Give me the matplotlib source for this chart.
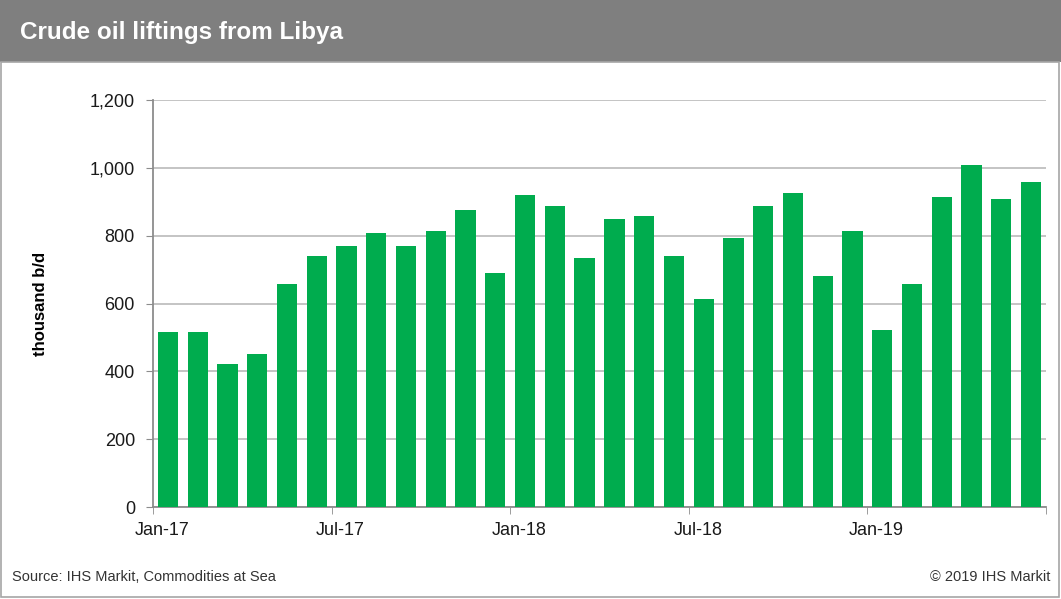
import numpy as np
import matplotlib.pyplot as plt
from matplotlib.patches import Rectangle

plt.rcParams['font.family'] = ['Liberation Sans', 'DejaVu Sans']

months = ['Jan-17', 'Feb-17', 'Mar-17', 'Apr-17', 'May-17', 'Jun-17',
          'Jul-17', 'Aug-17', 'Sep-17', 'Oct-17', 'Nov-17', 'Dec-17',
          'Jan-18', 'Feb-18', 'Mar-18', 'Apr-18', 'May-18', 'Jun-18',
          'Jul-18', 'Aug-18', 'Sep-18', 'Oct-18', 'Nov-18', 'Dec-18',
          'Jan-19', 'Feb-19', 'Mar-19', 'Apr-19', 'May-19', 'Jun-19']
liftings = [516, 516, 423, 450, 657, 740, 771, 809, 771, 814, 875, 689,
            919, 888, 735, 849, 857, 740, 614, 794, 888, 925, 681, 813,
            521, 657, 915, 1008, 908, 957]
tick_labels = ['Jan-17', 'Jul-17', 'Jan-18', 'Jul-18', 'Jan-19']

W, H = 1061, 599
fig = plt.figure(figsize=(W / 100, H / 100), dpi=100)

# title band and border
fig.patches.append(Rectangle((0, 1 - 62 / H), 1, 62 / H, transform=fig.transFigure,
                             facecolor='#7f7f7f', edgecolor='none', zorder=0))
fig.patches.append(Rectangle((1 / W, 2 / H), 1 - 3 / W, 1 - 62 / H - 2 / H,
                             transform=fig.transFigure, facecolor='none',
                             edgecolor='#a6a6a6', linewidth=1.2, zorder=0))
fig.text(20 / W, 1 - 33 / H, 'Crude oil liftings from Libya', color='white',
         fontsize=17.5, fontweight='bold', va='center', ha='left')

ax = fig.add_axes([153 / W, 1 - 507 / H, (1046 - 153) / W, (507 - 100) / H])
x = np.arange(len(liftings))
ax.bar(x, liftings, width=0.68, color='#00ac4e', zorder=3)

ax.set_xlim(-0.5, len(liftings) - 0.5)
ax.set_ylim(0, 1200)
ax.set_yticks(np.arange(0, 1201, 200))
ax.set_yticklabels([f'{v:,}' for v in range(0, 1201, 200)], fontsize=13, color='#1a1a1a')
ax.yaxis.grid(True, color='#bfbfbf', linewidth=1.3, zorder=0)

# tick marks at bar boundaries, labels a little to the right of them
ax.set_xticks(np.arange(-0.5, len(liftings), 6), minor=True)
ax.set_xticks(np.arange(0, len(liftings), 6) - 0.2)
ax.set_xticklabels(tick_labels, fontsize=13, color='#1a1a1a')
ax.tick_params(axis='x', which='major', length=0, pad=11)
ax.tick_params(axis='x', which='minor', length=5, color='#8c8c8c')
ax.tick_params(axis='y', length=5, color='#8c8c8c', pad=8)

for s in ['top', 'right']:
    ax.spines[s].set_visible(False)
for s in ['left', 'bottom']:
    ax.spines[s].set_color('#8c8c8c')
    ax.spines[s].set_linewidth(1.3)

ax.set_ylabel('thousand b/d', fontsize=12, fontweight='bold', labelpad=30)

fig.text(12 / W, 1 - 577 / H, 'Source: IHS Markit, Commodities at Sea',
         fontsize=10.5, color='#333333', va='center', ha='left')
fig.text(1050 / W, 1 - 577 / H, '\u00a9 2019 IHS Markit',
         fontsize=10.5, color='#333333', va='center', ha='right')

fig.savefig('out.png', dpi=100)
